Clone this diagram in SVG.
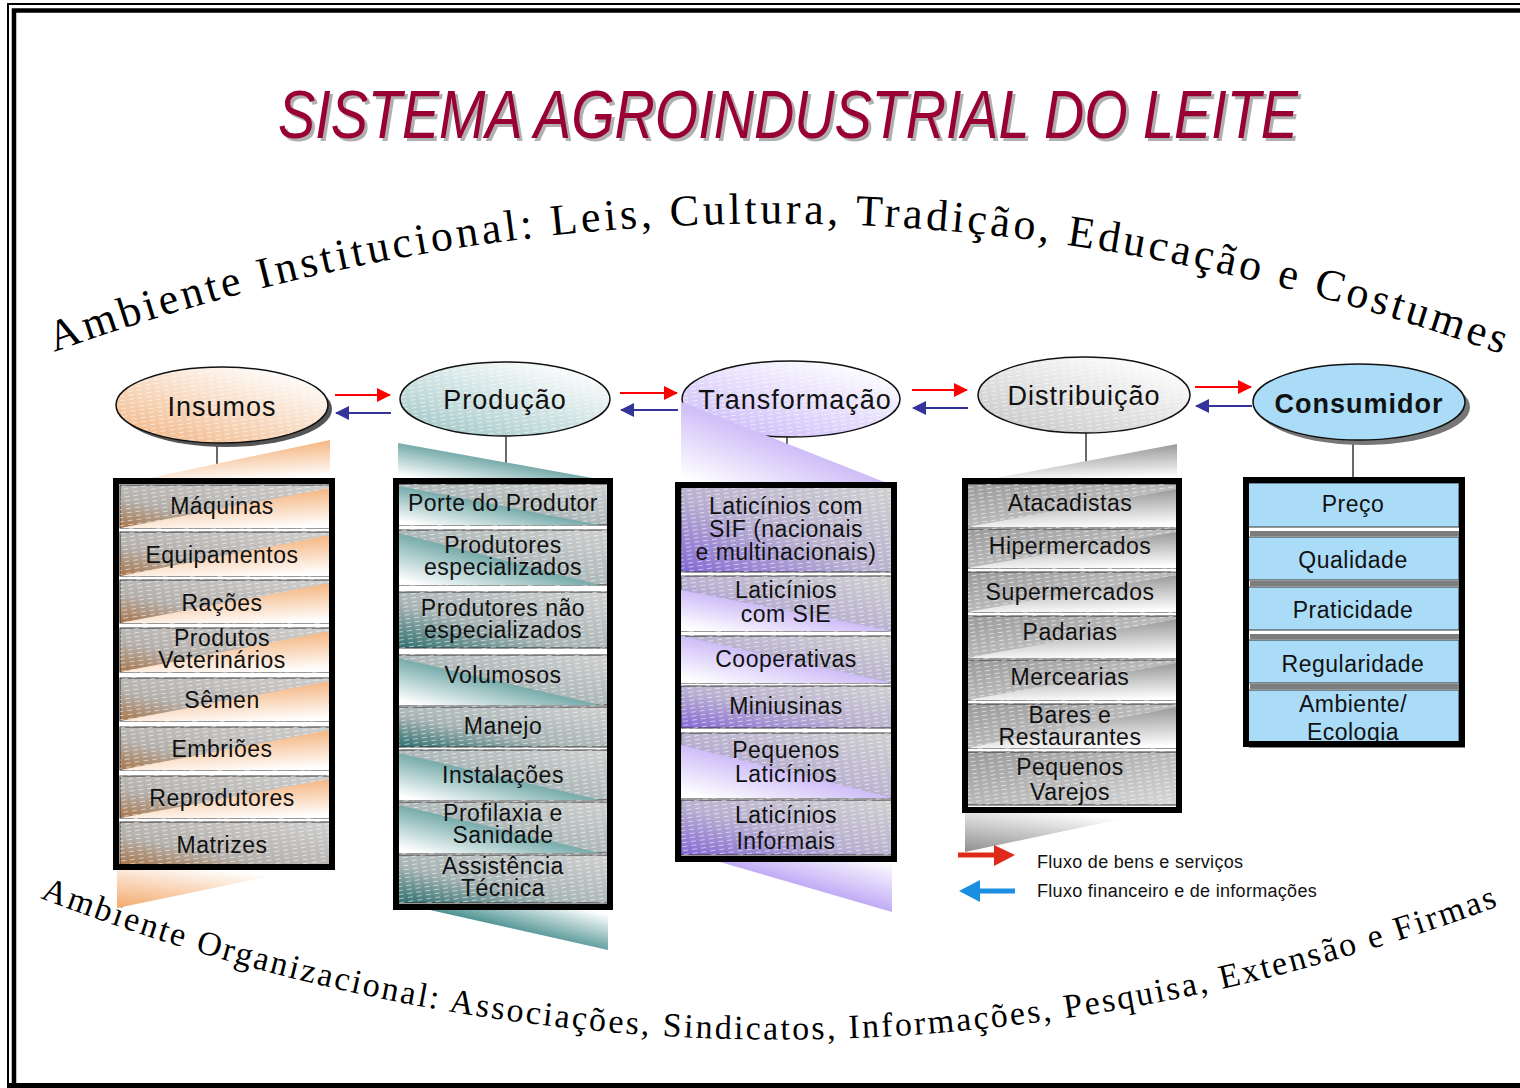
<svg xmlns="http://www.w3.org/2000/svg" width="1520" height="1088" viewBox="0 0 1520 1088">
<style>
  .lbl{font-family:"Liberation Sans",Arial,sans-serif;font-size:27px;letter-spacing:1px;fill:#111;text-anchor:middle}
  .cell-t{font-family:"Liberation Sans",Arial,sans-serif;font-size:23px;letter-spacing:0.5px;fill:#111;text-anchor:middle}
  .arc{font-family:"Liberation Serif","Times New Roman",serif;fill:#000}
  .cell{stroke:#333;stroke-width:1}
  .frame{fill:none;stroke:#000;stroke-width:6}
  .vline{stroke:#444;stroke-width:1.6}
  .fwd{stroke:#ff0000;stroke-width:2;marker-end:url(#hRed)}
  .back{stroke:#333399;stroke-width:2;marker-end:url(#hNavy)}
  .ell{stroke:#111;stroke-width:1.5}
  .leg{font-family:"Liberation Sans",Arial,sans-serif;font-size:18px;letter-spacing:0.3px;fill:#111}
</style>
<defs>
  <pattern id="tex" width="9" height="4" patternUnits="userSpaceOnUse" patternTransform="rotate(-8)">
    <path d="M0,1.5 h5" stroke="#fff" stroke-width="1" opacity="0.55"/>
  </pattern>
  <linearGradient id="cOr" x1="0" y1="1" x2="1" y2="0">
    <stop offset="0" stop-color="#a8754a"/><stop offset="0.35" stop-color="#b4b0ac"/><stop offset="1" stop-color="#cfcfcf"/>
  </linearGradient>
  <linearGradient id="cTe" x1="0" y1="1" x2="1" y2="0">
    <stop offset="0" stop-color="#2d6f6f"/><stop offset="0.4" stop-color="#a8b4b4"/><stop offset="1" stop-color="#d0d0d0"/>
  </linearGradient>
  <linearGradient id="cPu" x1="0" y1="1" x2="1" y2="0">
    <stop offset="0" stop-color="#8468d6"/><stop offset="0.45" stop-color="#b8b0d0"/><stop offset="1" stop-color="#d0d0d0"/>
  </linearGradient>
  <linearGradient id="cGr" x1="0" y1="0" x2="1" y2="1">
    <stop offset="0" stop-color="#9a9a9a"/><stop offset="1" stop-color="#d8d8d8"/>
  </linearGradient>
  <linearGradient id="wOr" x1="0.45" y1="0" x2="0.75" y2="1">
    <stop offset="0" stop-color="#f3a96c"/><stop offset="1" stop-color="#ffffff"/>
  </linearGradient>
  <linearGradient id="wOr2" x1="0" y1="1" x2="0.6" y2="0">
    <stop offset="0" stop-color="#f3a96c"/><stop offset="1" stop-color="#ffffff"/>
  </linearGradient>
  <linearGradient id="wTe" x1="0.9" y1="0.2" x2="0.1" y2="1">
    <stop offset="0" stop-color="#0d6a6a"/><stop offset="1" stop-color="#ffffff"/>
  </linearGradient>
  <linearGradient id="wTe2" x1="0.2" y1="0.6" x2="0.9" y2="0">
    <stop offset="0" stop-color="#0d6a6a"/><stop offset="1" stop-color="#ffffff"/>
  </linearGradient>
  <linearGradient id="wPu" x1="0.9" y1="0.2" x2="0.1" y2="1">
    <stop offset="0" stop-color="#a88af2"/><stop offset="1" stop-color="#ffffff"/>
  </linearGradient>
  <linearGradient id="wPu2" x1="0.3" y1="0.7" x2="1" y2="0">
    <stop offset="0" stop-color="#a88af2"/><stop offset="1" stop-color="#ffffff"/>
  </linearGradient>
  <linearGradient id="wGr" x1="0.5" y1="0" x2="0.7" y2="1">
    <stop offset="0" stop-color="#8f8f8f"/><stop offset="1" stop-color="#ffffff"/>
  </linearGradient>
  <linearGradient id="wGr2" x1="0" y1="1" x2="0.6" y2="0">
    <stop offset="0" stop-color="#8f8f8f"/><stop offset="1" stop-color="#ffffff"/>
  </linearGradient>
  <linearGradient id="eOr" x1="0" y1="1" x2="0.8" y2="0">
    <stop offset="0" stop-color="#f0b380"/><stop offset="1" stop-color="#ffffff"/>
  </linearGradient>
  <linearGradient id="eTe" x1="0" y1="1" x2="0.8" y2="0">
    <stop offset="0" stop-color="#9cc4c4"/><stop offset="1" stop-color="#ffffff"/>
  </linearGradient>
  <linearGradient id="ePu" x1="0" y1="1" x2="0.8" y2="0">
    <stop offset="0" stop-color="#c6b4f8"/><stop offset="1" stop-color="#ffffff"/>
  </linearGradient>
  <linearGradient id="eGr" x1="0" y1="1" x2="0.8" y2="0">
    <stop offset="0" stop-color="#c4c4c4"/><stop offset="1" stop-color="#ffffff"/>
  </linearGradient>
  <marker id="hRed" markerUnits="userSpaceOnUse" markerWidth="14" markerHeight="14" refX="13" refY="7" orient="auto">
    <path d="M0,0 L14,7 L0,14 z" fill="#ff0000"/>
  </marker>
  <marker id="hNavy" markerUnits="userSpaceOnUse" markerWidth="14" markerHeight="14" refX="13" refY="7" orient="auto">
    <path d="M0,0 L14,7 L0,14 z" fill="#333399"/>
  </marker>
  <path id="arcTop" d="M54,352 Q780,92 1512,358"/>
  <path id="arcBot" d="M40,898 Q775,1180 1515,900"/>
</defs>

<rect width="1520" height="1088" fill="#fff"/>

<g id="frame">
  <path d="M8,1088 V4 H1520" fill="none" stroke="#000" stroke-width="2"/>
  <path d="M14,1088 V10.5 H1520" fill="none" stroke="#000" stroke-width="4.5"/>
  <rect x="8" y="1083" width="1512" height="5" fill="#000"/>
</g>

<g id="title" font-family="'Liberation Sans',Arial,sans-serif" font-size="68" font-style="italic">
  <text x="281" y="141" fill="#b0b0b0" textLength="1020" lengthAdjust="spacingAndGlyphs">SISTEMA AGROINDUSTRIAL DO LEITE</text>
  <text x="278" y="138" fill="#990033" textLength="1020" lengthAdjust="spacingAndGlyphs">SISTEMA AGROINDUSTRIAL DO LEITE</text>
</g>

<g id="institutional">
  <text class="arc" font-size="44"><textPath href="#arcTop" textLength="1478" lengthAdjust="spacing">Ambiente Institucional: Leis, Cultura, Tradição, Educação e Costumes</textPath></text>
</g>
<g id="organizational">
  <text class="arc" font-size="34"><textPath href="#arcBot" textLength="1492" lengthAdjust="spacing">Ambiente Organizacional: Associações, Sindicatos, Informações, Pesquisa, Extensão e Firmas</textPath></text>
</g>

<g id="connectors">
  <line class="vline" x1="217" y1="443" x2="217" y2="480"/>
  <line class="vline" x1="506" y1="437" x2="506" y2="480"/>
  <line class="vline" x1="787" y1="437" x2="787" y2="483"/>
  <line class="vline" x1="1086" y1="433" x2="1086" y2="480"/>
  <line class="vline" x1="1353" y1="440" x2="1353" y2="478"/>
  <line class="fwd" x1="335" y1="395" x2="390" y2="395"/>
  <line class="back" x1="391" y1="413" x2="336" y2="413"/>
  <line class="fwd" x1="620" y1="393" x2="677" y2="393"/>
  <line class="back" x1="678" y1="410" x2="621" y2="410"/>
  <line class="fwd" x1="912" y1="390" x2="967" y2="390"/>
  <line class="back" x1="968" y1="408" x2="913" y2="408"/>
  <line class="fwd" x1="1195" y1="387" x2="1251" y2="387"/>
  <line class="back" x1="1252" y1="406" x2="1196" y2="406"/>
</g>

<!-- Ellipse nodes -->
<g id="node-insumos">
  <ellipse cx="226" cy="409" rx="106" ry="38" fill="#555"/>
  <ellipse class="ell" cx="222" cy="405" rx="106" ry="38" fill="url(#eOr)"/>
  <ellipse cx="222" cy="405" rx="105" ry="37" fill="url(#tex)"/>
  <text class="lbl" x="222" y="416">Insumos</text>
</g>
<g id="node-producao">
  <ellipse class="ell" cx="505" cy="399" rx="105" ry="37" fill="url(#eTe)"/>
  <ellipse cx="505" cy="399" rx="104" ry="36" fill="url(#tex)"/>
  <text class="lbl" x="505" y="409">Produção</text>
</g>
<g id="node-transformacao">
  <ellipse class="ell" cx="791" cy="399" rx="109" ry="38" fill="url(#ePu)"/>
  <ellipse cx="791" cy="399" rx="108" ry="37" fill="url(#tex)"/>
  <text class="lbl" x="795" y="409">Transformação</text>
</g>
<g id="node-distribuicao">
  <ellipse class="ell" cx="1084" cy="395" rx="106" ry="38" fill="url(#eGr)"/>
  <ellipse cx="1084" cy="395" rx="105" ry="37" fill="url(#tex)"/>
  <text class="lbl" x="1084" y="405">Distribuição</text>
</g>
<g id="node-consumidor">
  <ellipse cx="1364" cy="407" rx="106" ry="38" fill="#777"/>
  <ellipse class="ell" cx="1359" cy="402" rx="106" ry="38" fill="#aadcf8"/>
  <text class="lbl" x="1359" y="413" font-weight="bold">Consumidor</text>
</g>

<!-- Insumos list -->
<g id="list-insumos">
  <polygon points="145,479 330,440 330,479" fill="url(#wOr)"/>
  <polygon points="117,870 300,870 117,908" fill="url(#wOr2)"/>
  <rect x="116" y="481" width="216" height="386" fill="#fff"/>
  <g fill="url(#cOr)" class="cell">
    <rect x="120" y="485" width="210" height="43"/>
    <rect x="120" y="532" width="210" height="44"/>
    <rect x="120" y="580" width="210" height="43"/>
    <rect x="120" y="628" width="210" height="44"/>
    <rect x="120" y="678" width="210" height="43"/>
    <rect x="120" y="727" width="210" height="43"/>
    <rect x="120" y="776" width="210" height="42"/>
    <rect x="120" y="822" width="210" height="43"/>
  </g>
  <rect x="120" y="485" width="210" height="380" fill="url(#tex)"/>
  <g fill="url(#wOr)">
    <polygon points="120,528 330,488 330,528"/>
    <polygon points="120,576 330,535 330,576"/>
    <polygon points="120,623 330,583 330,623"/>
    <polygon points="120,672 330,631 330,672"/>
    <polygon points="120,721 330,681 330,721"/>
    <polygon points="120,770 330,730 330,770"/>
    <polygon points="120,818 330,779 330,818"/>
  </g>
  <text class="cell-t" x="222" y="514">Máquinas</text>
  <text class="cell-t" x="222" y="563">Equipamentos</text>
  <text class="cell-t" x="222" y="611">Rações</text>
  <text class="cell-t" x="222" y="646">Produtos</text>
  <text class="cell-t" x="222" y="668">Veterinários</text>
  <text class="cell-t" x="222" y="708">Sêmen</text>
  <text class="cell-t" x="222" y="757">Embriões</text>
  <text class="cell-t" x="222" y="806">Reprodutores</text>
  <text class="cell-t" x="222" y="853">Matrizes</text>
  <rect class="frame" x="116" y="481" width="216" height="386"/>
</g>

<!-- Producao list -->
<g id="list-producao">
  <polygon points="398,443 598,479 398,479" fill="url(#wTe)"/>
  <polygon points="430,910 608,910 608,950" fill="url(#wTe2)"/>
  <rect x="396" y="481" width="214" height="426" fill="#fff"/>
  <g fill="url(#cTe)" class="cell">
    <rect x="398" y="484" width="210" height="41"/>
    <rect x="398" y="530" width="210" height="55"/>
    <rect x="398" y="592" width="210" height="56"/>
    <rect x="398" y="655" width="210" height="50"/>
    <rect x="398" y="707" width="210" height="40"/>
    <rect x="398" y="750" width="210" height="50"/>
    <rect x="398" y="802" width="210" height="51"/>
    <rect x="398" y="855" width="210" height="48"/>
  </g>
  <rect x="398" y="484" width="210" height="419" fill="url(#tex)"/>
  <g fill="url(#wTe)">
    <polygon points="398,486 600,525 398,525"/>
    <polygon points="398,533 600,585 398,585"/>
    <polygon points="398,658 600,705 398,705"/>
    <polygon points="398,753 600,800 398,800"/>
    <polygon points="398,805 600,853 398,853"/>
  </g>
  <text class="cell-t" x="503" y="511">Porte do Produtor</text>
  <text class="cell-t" x="503" y="553">Produtores</text>
  <text class="cell-t" x="503" y="575">especializados</text>
  <text class="cell-t" x="503" y="616">Produtores não</text>
  <text class="cell-t" x="503" y="638">especializados</text>
  <text class="cell-t" x="503" y="683">Volumosos</text>
  <text class="cell-t" x="503" y="734">Manejo</text>
  <text class="cell-t" x="503" y="783">Instalações</text>
  <text class="cell-t" x="503" y="821">Profilaxia e</text>
  <text class="cell-t" x="503" y="843">Sanidade</text>
  <text class="cell-t" x="503" y="874" font-size="22">Assistência</text>
  <text class="cell-t" x="503" y="896" font-size="22">Técnica</text>
  <rect class="frame" x="396" y="481" width="214" height="426"/>
</g>

<!-- Transformacao list -->
<g id="list-transformacao">
  <polygon points="681,402 892,485 681,485" fill="url(#wPu)"/>
  <polygon points="720,862 892,862 892,912" fill="url(#wPu2)"/>
  <rect x="678" y="485" width="216" height="374" fill="#fff"/>
  <g fill="url(#cPu)" class="cell">
    <rect x="681" y="487" width="211" height="85"/>
    <rect x="681" y="576" width="211" height="55"/>
    <rect x="681" y="636" width="211" height="47"/>
    <rect x="681" y="686" width="211" height="42"/>
    <rect x="681" y="733" width="211" height="65"/>
    <rect x="681" y="800" width="211" height="55"/>
  </g>
  <rect x="681" y="487" width="211" height="368" fill="url(#tex)"/>
  <g fill="url(#wPu)">
    <polygon points="681,590 892,631 681,631"/>
    <polygon points="681,636 892,683 681,683"/>
    <polygon points="681,745 892,798 681,798"/>
  </g>
  <text class="cell-t" x="786" y="514">Laticínios com</text>
  <text class="cell-t" x="786" y="537">SIF (nacionais</text>
  <text class="cell-t" x="786" y="560">e multinacionais)</text>
  <text class="cell-t" x="786" y="598">Laticínios</text>
  <text class="cell-t" x="786" y="622">com SIE</text>
  <text class="cell-t" x="786" y="667">Cooperativas</text>
  <text class="cell-t" x="786" y="714">Miniusinas</text>
  <text class="cell-t" x="786" y="758">Pequenos</text>
  <text class="cell-t" x="786" y="782">Laticínios</text>
  <text class="cell-t" x="786" y="823">Laticínios</text>
  <text class="cell-t" x="786" y="849">Informais</text>
  <rect class="frame" x="678" y="485" width="216" height="374"/>
</g>

<!-- Distribuicao list -->
<g id="list-distribuicao">
  <polygon points="990,479 1177,444 1177,479" fill="url(#wGr)"/>
  <polygon points="965,813 1150,813 965,852" fill="url(#wGr2)"/>
  <rect x="965" y="481" width="214" height="329" fill="#fff"/>
  <g fill="url(#cGr)" class="cell">
    <rect x="967" y="484" width="210" height="43"/>
    <rect x="967" y="529" width="210" height="39"/>
    <rect x="967" y="572" width="210" height="40"/>
    <rect x="967" y="616" width="210" height="42"/>
    <rect x="967" y="660" width="210" height="40"/>
    <rect x="967" y="704" width="210" height="44"/>
    <rect x="967" y="752" width="210" height="53"/>
  </g>
  <rect x="967" y="484" width="210" height="321" fill="url(#tex)"/>
  <g fill="url(#wGr)">
    <polygon points="967,527 1177,489 1177,527"/>
    <polygon points="967,568 1177,532 1177,568"/>
    <polygon points="967,612 1177,575 1177,612"/>
    <polygon points="967,658 1177,619 1177,658"/>
    <polygon points="967,700 1177,663 1177,700"/>
    <polygon points="967,748 1177,707 1177,748"/>
  </g>
  <text class="cell-t" x="1070" y="511">Atacadistas</text>
  <text class="cell-t" x="1070" y="554">Hipermercados</text>
  <text class="cell-t" x="1070" y="600">Supermercados</text>
  <text class="cell-t" x="1070" y="640">Padarias</text>
  <text class="cell-t" x="1070" y="685">Mercearias</text>
  <text class="cell-t" x="1070" y="723">Bares e</text>
  <text class="cell-t" x="1070" y="745">Restaurantes</text>
  <text class="cell-t" x="1070" y="775">Pequenos</text>
  <text class="cell-t" x="1070" y="800">Varejos</text>
  <rect class="frame" x="965" y="481" width="214" height="329"/>
</g>

<!-- Consumidor list -->
<g id="list-consumidor">
  <rect x="1249" y="484" width="216" height="264" fill="#8a8a8a"/>
  <rect x="1246" y="480" width="216" height="264" fill="#fff"/>
  <g fill="#7d7d7d">
    <rect x="1250" y="531" width="210" height="5"/>
    <rect x="1250" y="581" width="210" height="5"/>
    <rect x="1250" y="634" width="210" height="5"/>
    <rect x="1250" y="684" width="210" height="5"/>
  </g>
  <g fill="#aadcf8" class="cell">
    <rect x="1248" y="483" width="211" height="44"/>
    <rect x="1248" y="537" width="211" height="43"/>
    <rect x="1248" y="587" width="211" height="43"/>
    <rect x="1248" y="640" width="211" height="43"/>
    <rect x="1248" y="690" width="211" height="53"/>
  </g>
  <text class="cell-t" x="1353" y="512">Preço</text>
  <text class="cell-t" x="1353" y="568">Qualidade</text>
  <text class="cell-t" x="1353" y="618">Praticidade</text>
  <text class="cell-t" x="1353" y="672">Regularidade</text>
  <text class="cell-t" x="1353" y="712">Ambiente/</text>
  <text class="cell-t" x="1353" y="740">Ecologia</text>
  <rect class="frame" x="1246" y="480" width="216" height="264"/>
</g>

<g id="legend">
  <line x1="958" y1="855" x2="998" y2="855" stroke="#dd2a1a" stroke-width="5"/>
  <path d="M994,845 L1015,855 L994,866 z" fill="#dd2a1a"/>
  <line x1="976" y1="891" x2="1015" y2="891" stroke="#1a8ee0" stroke-width="5"/>
  <path d="M980,880 L959,891 L980,902 z" fill="#1a8ee0"/>
  <text class="leg" x="1037" y="868">Fluxo de bens e serviços</text>
  <text class="leg" x="1037" y="897">Fluxo financeiro e de informações</text>
</g>
</svg>
